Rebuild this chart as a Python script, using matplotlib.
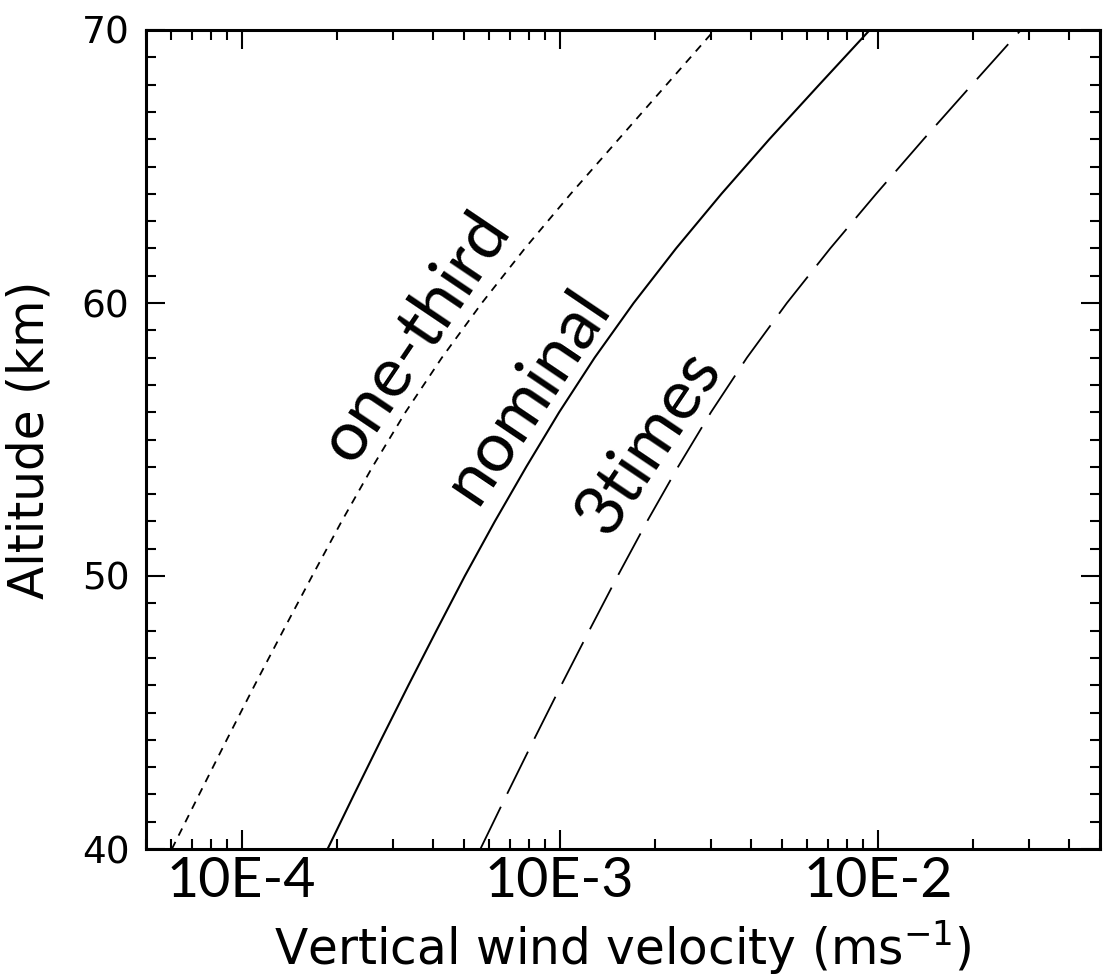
import matplotlib
matplotlib.use('Agg')
import numpy as np
import matplotlib.pyplot as plt
from matplotlib.ticker import LogLocator, MultipleLocator, NullFormatter, FixedLocator

# altitude levels (km) and vertical wind velocity (m/s)
altitude = [40, 42, 44, 46, 48, 50, 52, 54, 56, 58, 60, 62, 64, 66, 68, 70]
one_third = [6.03e-5, 7.35e-5, 8.97e-5, 1.098e-4, 1.350e-4, 1.665e-4, 2.061e-4, 2.578e-4,
             3.273e-4, 4.261e-4, 5.69e-4, 7.77e-4, 1.083e-3, 1.532e-3, 2.168e-3, 3.067e-3]
nominal = [1.862e-4, 2.256e-4, 2.742e-4, 3.344e-4, 4.095e-4, 5.03e-4, 6.25e-4, 7.85e-4,
           9.96e-4, 1.288e-3, 1.708e-3, 2.322e-3, 3.226e-3, 4.563e-3, 6.551e-3, 9.44e-3]
three_times = [5.63e-4, 6.82e-4, 8.29e-4, 1.011e-3, 1.238e-3, 1.521e-3, 1.882e-3, 2.356e-3,
               2.99e-3, 3.88e-3, 5.18e-3, 7.09e-3, 9.89e-3, 1.394e-2, 1.98e-2, 2.82e-2]

xticks = [1e-4, 1e-3, 1e-2]
xtick_labels = ['10E-4', '10E-3', '10E-2']
yticks = [40, 50, 60, 70]

fig = plt.figure(figsize=(11.04, 9.77), dpi=100)
ax = fig.add_axes([146 / 1104, 128 / 977, 954 / 1104, 819 / 977])

ax.plot(one_third, altitude, color='black', lw=1.3, linestyle=(0, (4.4, 3.9)))
ax.plot(nominal, altitude, color='black', lw=1.5)
ax.plot(three_times, altitude, color='black', lw=1.3, linestyle=(0, (26, 8)))

ax.set_xscale('log')
ax.set_xlim(5e-5, 5e-2)
ax.set_ylim(40, 70)

ax.xaxis.set_major_locator(FixedLocator(xticks))
ax.set_xticklabels(xtick_labels, fontfamily='Lato', fontsize=40)
ax.xaxis.set_minor_locator(LogLocator(base=10, subs=np.arange(2, 10)))
ax.xaxis.set_minor_formatter(NullFormatter())
ax.set_yticks(yticks)
ax.set_yticklabels([str(v) for v in yticks], fontsize=27)
ax.yaxis.set_minor_locator(MultipleLocator(1))

for s in ax.spines.values():
    s.set_linewidth(2.2)
ax.tick_params(which='both', direction='in', top=True, right=True, width=1.5)
ax.tick_params(which='major', length=14)
ax.tick_params(which='minor', length=7)
ax.tick_params(axis='x', which='major', pad=5)
ax.tick_params(axis='y', which='major', pad=12)

ax.set_ylabel('Altitude (km)', fontsize=35)
ax.yaxis.set_label_coords(-0.097, 0.5)
ax.set_xlabel('Vertical wind velocity (ms$^{-1}$)', fontsize=35)
ax.xaxis.set_label_coords(0.5, -0.085)

lab = dict(fontfamily='Lato', fontsize=50, rotation=56, ha='center', va='center',
           rotation_mode='anchor', transform=ax.transAxes)
ax.text(0.282, 0.626, 'one-third', **lab)
ax.text(0.399, 0.553, 'nominal', **lab)
ax.text(0.527, 0.497, '3times', **lab)

fig.savefig('out.png', dpi=100)
